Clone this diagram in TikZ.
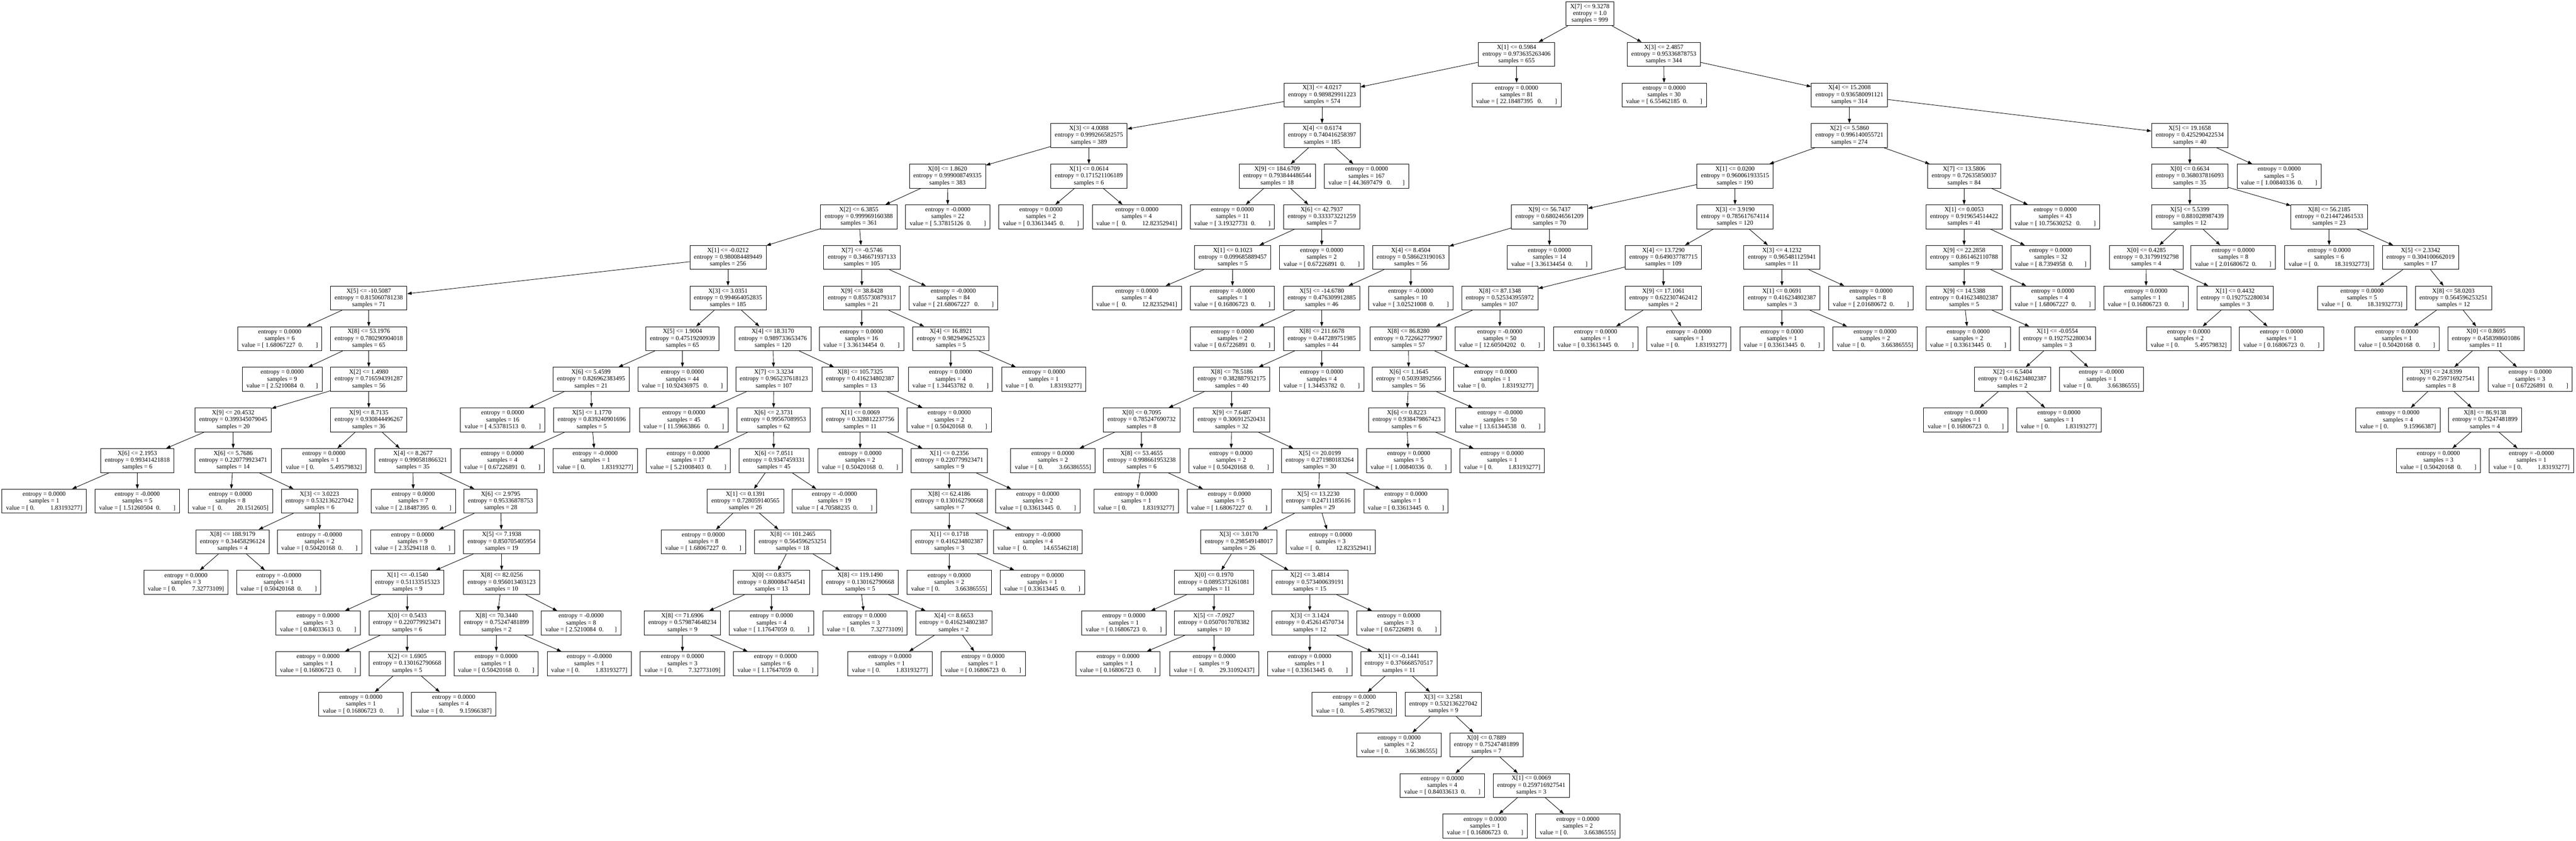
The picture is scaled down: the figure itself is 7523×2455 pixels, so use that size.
\documentclass[tikz,border=0pt]{standalone}
\usepackage{fontspec}
\setmainfont{Liberation Serif}
\usetikzlibrary{arrows.meta}
\newcommand\valA[1]{value = [~#1~~0.~~~~~~~~]}
\newcommand\valAA[1]{value = [~#1~~~0.~~~~~~~~]}
\newcommand\valAs[1]{value = [~#1~~0.~~~~~~~]}
\newcommand\valAAs[1]{value = [~#1~~~0.~~~~~~~]}
\newcommand\valB[1]{value = [~0.~~~~~~~~~~#1]}
\newcommand\valBB[1]{value = [~~0.~~~~~~~~~~#1]}
\newcommand\valBBs[1]{value = [~~0.~~~~~~~~~#1]}
\newcommand\TreeIn[7]{\node[tbox] (#1) at (#2,{40+118.6*#3}) {X[#4] <= #5\\entropy = #6\\samples = #7};}
\newcommand\TreeLf[6]{\node[tbox] (#1) at (#2,{40+118.6*#3}) {entropy = #4\\samples = #5\\#6};}
\begin{document}
\begin{tikzpicture}[x=1pt,y=-1pt,
  tbox/.style={draw, line width=1.3pt, rectangle, align=center, inner xsep=12pt, inner ysep=0pt,
    minimum height=70pt, font=\fontsize{18.3pt}{20pt}\selectfont},
  edge/.style={line width=1.3pt, -{Triangle[length=13pt,width=9pt]}}]
\fill[white] (0,0) rectangle (7523,2455);
\useasboundingbox (0,0) rectangle (7523,2455);
% level 0
\TreeIn{r}{4643}{0}{7}{9.3278}{1.0}{999}
% level 1
\TreeIn{a}{4429}{1}{1}{0.5984}{0.973635263406}{655}
\TreeIn{b}{4859}{1}{3}{2.4857}{0.95336878753}{344}
% level 2
\TreeIn{a1}{3861}{2}{3}{4.0217}{0.989829911223}{574}
\TreeLf{aL}{4429}{2}{0.0000}{81}{\valAA{22.18487395}}
\TreeLf{bL}{4860}{2}{0.0000}{30}{\valA{6.55462185}}
\TreeIn{b1}{5401}{2}{4}{15.2008}{0.936580091121}{314}
% level 3
\TreeIn{c}{3180}{3}{3}{4.0088}{0.999266582575}{389}
\TreeIn{d}{3861}{3}{4}{0.6174}{0.740416258397}{185}
\TreeIn{e}{5401}{3}{2}{5.5860}{0.996140055721}{274}
\TreeIn{f}{6395}{3}{5}{19.1658}{0.425290422534}{40}
% level 4
\TreeIn{c1}{2767}{4}{0}{1.8620}{0.999008749335}{383}
\TreeIn{c2}{3180}{4}{1}{0.0614}{0.171521106189}{6}
\TreeIn{d1}{3730}{4}{9}{184.6709}{0.793844486544}{18}
\TreeLf{dL}{3991}{4}{0.0000}{167}{\valAAs{44.3697479}}
\TreeIn{e1}{5067}{4}{1}{0.0200}{0.960061933515}{190}
\TreeIn{e2}{5736}{4}{7}{13.5806}{0.72635850037}{84}
\TreeIn{f1}{6395}{4}{0}{0.6634}{0.368037816093}{35}
\TreeLf{fL}{6656}{4}{0.0000}{5}{\valA{1.00840336}}
% level 5
\TreeIn{c1a}{2508}{5}{2}{6.3855}{0.999969160388}{361}
\TreeLf{c1L}{2768}{5}{-0.0000}{22}{\valA{5.37815126}}
\TreeLf{c2L}{3040}{5}{0.0000}{2}{\valA{0.33613445}}
\TreeLf{c2R}{3320}{5}{0.0000}{4}{\valBB{12.82352941}}
\TreeLf{d1L}{3599}{5}{0.0000}{11}{\valA{3.19327731}}
\TreeIn{d1a}{3860}{5}{6}{42.7937}{0.333373221259}{7}
\TreeIn{e1a}{4525}{5}{9}{56.7437}{0.680246561209}{70}
\TreeIn{e1b}{5067}{5}{3}{3.9190}{0.785617674114}{120}
\TreeIn{e2a}{5736}{5}{1}{0.0053}{0.919654514422}{41}
\TreeLf{e2L}{6002}{5}{0.0000}{43}{\valAA{10.75630252}}
\TreeIn{f1a}{6395}{5}{5}{5.5399}{0.881028987439}{12}
\TreeIn{f1b}{6802}{5}{8}{56.2185}{0.214472461533}{23}
% level 6
\TreeIn{g}{2126}{6}{1}{-0.0212}{0.980084489449}{256}
\TreeIn{h}{2517}{6}{7}{-0.5746}{0.346671937133}{105}
\TreeIn{d1aL}{3600}{6}{1}{0.1023}{0.099685889457}{5}
\TreeLf{d1aR}{3860}{6}{0.0000}{2}{\valA{0.67226891}}
\TreeIn{e1aL}{4120}{6}{4}{8.4504}{0.586623190163}{56}
\TreeLf{e1aR}{4525}{6}{0.0000}{14}{\valA{3.36134454}}
\TreeIn{e1bL}{4858}{6}{4}{13.7290}{0.649037787715}{109}
\TreeIn{e1bR}{5204}{6}{3}{4.1232}{0.965481125941}{11}
\TreeIn{e2aL}{5736}{6}{9}{22.2858}{0.861462110788}{9}
\TreeLf{e2aR}{5989}{6}{0.0000}{32}{\valAs{8.7394958}}
\TreeIn{f1aL}{6268}{6}{0}{0.4285}{0.31799192798}{4}
\TreeLf{f1aR}{6522}{6}{0.0000}{8}{\valA{2.01680672}}
\TreeLf{f1bL}{6802}{6}{0.0000}{6}{\valBB{18.31932773}}
\TreeIn{f1bR}{7069}{6}{5}{2.3342}{0.304100662019}{17}
% level 7
\TreeIn{gL}{1077}{7}{5}{-10.5087}{0.815060781238}{71}
\TreeIn{gR}{2126}{7}{3}{3.0351}{0.994664052835}{185}
\TreeIn{hL}{2517}{7}{9}{38.8428}{0.855730879317}{21}
\TreeLf{hR}{2784}{7}{-0.0000}{84}{\valAA{21.68067227}}
\TreeLf{d1aLL}{3320}{7}{0.0000}{4}{\valBB{12.82352941}}
\TreeLf{d1aLR}{3599}{7}{-0.0000}{1}{\valA{0.16806723}}
\TreeIn{e1aLL}{3860}{7}{5}{-14.6780}{0.476309912885}{46}
\TreeLf{e1aLR}{4120}{7}{-0.0000}{10}{\valA{3.02521008}}
\TreeIn{e1bLL}{4380}{7}{8}{87.1348}{0.525343955972}{107}
\TreeIn{e1bLR}{4858}{7}{9}{17.1061}{0.622307462412}{2}
\TreeIn{e1bRL}{5204}{7}{1}{0.0691}{0.416234802387}{3}
\TreeLf{e1bRR}{5464}{7}{0.0000}{8}{\valA{2.01680672}}
\TreeIn{e2aLL}{5736}{7}{9}{14.5388}{0.416234802387}{5}
\TreeLf{e2aLR}{5995}{7}{0.0000}{4}{\valA{1.68067227}}
\TreeLf{f1aLL}{6267}{7}{0.0000}{1}{\valA{0.16806723}}
\TreeIn{f1aLR}{6527}{7}{1}{0.4432}{0.192752280034}{3}
\TreeLf{f1bRL}{6898}{7}{0.0000}{5}{\valBB{18.31932773}}
\TreeIn{f1bRR}{7165}{7}{8}{58.0203}{0.564596253251}{12}
% level 8
\TreeLf{gLL}{817}{8}{0.0000}{6}{\valA{1.68067227}}
\TreeIn{gLR}{1077}{8}{8}{53.1976}{0.780290904018}{65}
\TreeIn{gRL}{1993}{8}{5}{1.9004}{0.47519200939}{65}
\TreeIn{gRR}{2257}{8}{4}{18.3170}{0.989733653476}{120}
\TreeLf{hLL}{2516}{8}{0.0000}{16}{\valA{3.36134454}}
\TreeIn{hLR}{2777}{8}{4}{16.8921}{0.982949625323}{5}
\TreeLf{e1aLLL}{3599}{8}{0.0000}{2}{\valA{0.67226891}}
\TreeIn{e1aLLR}{3860}{8}{8}{211.6678}{0.447289751985}{44}
\TreeIn{e1bLLL}{4113}{8}{8}{86.8280}{0.722662779907}{57}
\TreeLf{e1bLLR}{4380}{8}{-0.0000}{50}{\valAA{12.60504202}}
\TreeLf{e1bLRL}{4660}{8}{0.0000}{1}{\valA{0.33613445}}
\TreeLf{e1bLRR}{4932}{8}{-0.0000}{1}{\valB{1.83193277}}
\TreeLf{e1bRLL}{5204}{8}{0.0000}{1}{\valA{0.33613445}}
\TreeLf{e1bRLR}{5476}{8}{0.0000}{2}{\valB{3.66386555}}
\TreeLf{e2aLLL}{5748}{8}{0.0000}{2}{\valA{0.33613445}}
\TreeIn{e2aLLR}{6008}{8}{1}{-0.0554}{0.192752280034}{3}
\TreeLf{f1aLRL}{6392}{8}{0.0000}{2}{\valB{5.49579832}}
\TreeLf{f1aLRR}{6663}{8}{0.0000}{1}{\valA{0.16806723}}
\TreeLf{f1bRRL}{7000}{8}{0.0000}{1}{\valA{0.50420168}}
\TreeIn{f1bRRR}{7260}{8}{0}{0.8695}{0.458398601086}{11}
% level 9
\TreeLf{gLRL}{824}{9}{0.0000}{9}{\valAs{2.5210084}}
\TreeIn{gLRR}{1077}{9}{2}{1.4980}{0.716594391287}{56}
\TreeIn{gRLL}{1726}{9}{6}{5.4599}{0.826962383495}{21}
\TreeLf{gRLR}{1993}{9}{0.0000}{44}{\valAA{10.92436975}}
\TreeIn{gRRL}{2260}{9}{7}{3.3234}{0.965237618123}{107}
\TreeIn{gRRR}{2512}{9}{8}{105.7325}{0.416234802387}{13}
\TreeLf{hLRL}{2776}{9}{0.0000}{4}{\valA{1.34453782}}
\TreeLf{hLRR}{3048}{9}{0.0000}{1}{\valB{1.83193277}}
\TreeIn{e1aLLRL}{3597}{9}{8}{78.5186}{0.382887932175}{40}
\TreeLf{e1aLLRR}{3860}{9}{0.0000}{4}{\valA{1.34453782}}
\TreeIn{e1bLLLL}{4114}{9}{6}{1.1645}{0.50393892566}{56}
\TreeLf{e1bLLLR}{4368}{9}{0.0000}{1}{\valB{1.83193277}}
\TreeIn{e2aLLRL}{5877}{9}{2}{6.5404}{0.416234802387}{2}
\TreeLf{e2aLLRR}{6137}{9}{-0.0000}{1}{\valB{3.66386555}}
\TreeIn{f1bRRRL}{7128}{9}{9}{24.8399}{0.259716927541}{8}
\TreeLf{f1bRRRR}{7389}{9}{0.0000}{3}{\valA{0.67226891}}
% level 10
\TreeIn{p1}{681}{10}{9}{20.4532}{0.399345079045}{20}
\TreeIn{p2}{1077}{10}{9}{8.7135}{0.930844496267}{36}
\TreeLf{q1}{1468}{10}{0.0000}{16}{\valA{4.53781513}}
\TreeIn{q2}{1728}{10}{5}{1.1770}{0.839240901696}{5}
\TreeLf{s1}{1997}{10}{0.0000}{45}{\valAA{11.59663866}}
\TreeIn{s2}{2259}{10}{6}{2.3731}{0.99567089953}{62}
\TreeIn{t1}{2512}{10}{1}{0.0069}{0.328812237756}{11}
\TreeLf{t2}{2772}{10}{0.0000}{2}{\valA{0.50420168}}
\TreeIn{u1}{3334}{10}{0}{0.7095}{0.785247690732}{8}
\TreeIn{u2}{3597}{10}{9}{7.6487}{0.306912520431}{32}
\TreeIn{v1}{4108}{10}{6}{0.8223}{0.938479867423}{6}
\TreeLf{v2}{4381}{10}{-0.0000}{50}{\valAA{13.61344538}}
\TreeLf{w1}{5741}{10}{0.0000}{1}{\valA{0.16806723}}
\TreeLf{w2}{6013}{10}{0.0000}{1}{\valB{1.83193277}}
\TreeLf{z1}{7003}{10}{0.0000}{4}{\valB{9.15966387}}
\TreeIn{z2}{7257}{10}{8}{86.9138}{0.75247481899}{4}
% level 11
\TreeIn{p1a}{401}{11}{6}{2.1953}{0.99341421818}{6}
\TreeIn{p1b}{681}{11}{6}{5.7686}{0.220779923471}{14}
\TreeLf{p2a}{946}{11}{0.0000}{1}{\valB{5.49579832}}
\TreeIn{p2b}{1206}{11}{4}{8.2677}{0.990581866321}{35}
\TreeLf{q2a}{1467}{11}{0.0000}{4}{\valA{0.67226891}}
\TreeLf{q2b}{1738}{11}{-0.0000}{1}{\valB{1.83193277}}
\TreeLf{s2a}{2010}{11}{0.0000}{17}{\valA{5.21008403}}
\TreeIn{s2b}{2260}{11}{6}{7.0511}{0.9347459331}{45}
\TreeLf{t1a}{2512}{11}{0.0000}{2}{\valA{0.50420168}}
\TreeIn{t1b}{2772}{11}{1}{0.2356}{0.220779923471}{9}
\TreeLf{u1a}{3075}{11}{0.0000}{2}{\valB{3.66386555}}
\TreeIn{u1b}{3334}{11}{8}{53.4655}{0.998661953238}{6}
\TreeLf{u2a}{3595}{11}{0.0000}{2}{\valA{0.50420168}}
\TreeIn{u2b}{3854}{11}{5}{20.0199}{0.271980183264}{30}
\TreeLf{v1a}{4114}{11}{0.0000}{5}{\valA{1.00840336}}
\TreeLf{v1b}{4387}{11}{0.0000}{1}{\valB{1.83193277}}
\TreeLf{z2a}{7121}{11}{0.0000}{3}{\valA{0.50420168}}
\TreeLf{z2b}{7393}{11}{-0.0000}{1}{\valB{1.83193277}}
% level 12
\TreeLf{p1aa}{129}{12}{0.0000}{1}{\valB{1.83193277}}
\TreeLf{p1ab}{401}{12}{-0.0000}{5}{\valA{1.51260504}}
\TreeLf{p1ba}{673}{12}{0.0000}{8}{\valBBs{20.1512605}}
\TreeIn{p1bb}{933}{12}{3}{3.0223}{0.532136227042}{6}
\TreeLf{p2ba}{1207}{12}{0.0000}{7}{\valA{2.18487395}}
\TreeIn{p2bb}{1462}{12}{6}{2.9795}{0.95336878753}{28}
\TreeIn{s2ba}{2177}{12}{1}{0.1391}{0.728059140565}{26}
\TreeLf{s2bb}{2437}{12}{-0.0000}{19}{\valA{4.70588235}}
\TreeIn{t1ba}{2772}{12}{8}{62.4186}{0.130162790668}{7}
\TreeLf{t1bb}{3031}{12}{0.0000}{2}{\valA{0.33613445}}
\TreeLf{u1ba}{3318}{12}{0.0000}{1}{\valB{1.83193277}}
\TreeLf{u1bb}{3590}{12}{0.0000}{5}{\valA{1.68067227}}
\TreeIn{u2ba}{3850}{12}{5}{13.2230}{0.24711185616}{29}
\TreeLf{u2bb}{4106}{12}{0.0000}{1}{\valA{0.33613445}}
% level 13
\TreeIn{p1bba}{679}{13}{8}{188.9179}{0.34458296124}{4}
\TreeLf{p1bbb}{933}{13}{-0.0000}{2}{\valA{0.50420168}}
\TreeLf{p2bba}{1205}{13}{0.0000}{9}{\valA{2.35294118}}
\TreeIn{p2bbb}{1465}{13}{5}{7.1938}{0.850705405954}{19}
\TreeLf{s2baa}{2054}{13}{0.0000}{8}{\valA{1.68067227}}
\TreeIn{s2bab}{2315}{13}{8}{101.2465}{0.564596253251}{18}
\TreeIn{t1baa}{2772}{13}{1}{0.1718}{0.416234802387}{3}
\TreeLf{t1bab}{3031}{13}{-0.0000}{4}{\valBB{14.65546218}}
\TreeIn{u2baa}{3618}{13}{3}{3.0170}{0.298549148017}{26}
\TreeLf{u2bab}{3886}{13}{0.0000}{3}{\valBB{12.82352941}}
% level 14
\TreeLf{p1bbaa}{543}{14}{0.0000}{3}{\valB{7.32773109}}
\TreeLf{p1bbab}{814}{14}{-0.0000}{1}{\valA{0.50420168}}
\TreeIn{p2bbba}{1190}{14}{1}{-0.1540}{0.51133515323}{9}
\TreeIn{p2bbbb}{1465}{14}{8}{82.0256}{0.956013403123}{10}
\TreeIn{s2baba}{2253}{14}{0}{0.8375}{0.800084744541}{13}
\TreeIn{s2babb}{2512}{14}{8}{119.1490}{0.130162790668}{5}
\TreeLf{t1baaa}{2772}{14}{0.0000}{2}{\valB{3.66386555}}
\TreeLf{t1baab}{3044}{14}{0.0000}{1}{\valA{0.33613445}}
\TreeIn{u2baaa}{3545}{14}{0}{0.1970}{0.0895373261081}{11}
\TreeIn{u2baab}{3825}{14}{2}{3.4814}{0.573400639191}{15}
% level 15
\TreeLf{m1}{929}{15}{0.0000}{3}{\valA{0.84033613}}
\TreeIn{m2}{1189}{15}{0}{0.5433}{0.220779923471}{6}
\TreeIn{m3}{1450}{15}{8}{70.3440}{0.75247481899}{2}
\TreeLf{m4}{1697}{15}{-0.0000}{8}{\valAs{2.5210084}}
\TreeIn{m5}{1993}{15}{8}{71.6906}{0.579874648234}{9}
\TreeLf{m6}{2253}{15}{0.0000}{4}{\valA{1.17647059}}
\TreeLf{m7}{2526}{15}{0.0000}{3}{\valB{7.32773109}}
\TreeIn{m8}{2785}{15}{4}{8.6653}{0.416234802387}{2}
\TreeLf{m9}{3282}{15}{0.0000}{1}{\valA{0.16806723}}
\TreeIn{m10}{3545}{15}{5}{-7.0927}{0.0507017078382}{10}
\TreeIn{m11}{3825}{15}{3}{3.1424}{0.452614570734}{12}
\TreeLf{m12}{4085}{15}{0.0000}{3}{\valA{0.67226891}}
% level 16
\TreeLf{k1}{929}{16}{0.0000}{1}{\valA{0.16806723}}
\TreeIn{k2}{1189}{16}{2}{1.6905}{0.130162790668}{5}
\TreeLf{k3}{1449}{16}{0.0000}{1}{\valA{0.50420168}}
\TreeLf{k4}{1721}{16}{-0.0000}{1}{\valB{1.83193277}}
\TreeLf{k5}{1993}{16}{0.0000}{3}{\valB{7.32773109}}
\TreeLf{k6}{2265}{16}{0.0000}{6}{\valA{1.17647059}}
\TreeLf{k7}{2599}{16}{0.0000}{1}{\valB{1.83193277}}
\TreeLf{k8}{2871}{16}{0.0000}{1}{\valA{0.16806723}}
\TreeLf{k9}{3265}{16}{0.0000}{1}{\valA{0.16806723}}
\TreeLf{k10}{3546}{16}{0.0000}{9}{\valBB{29.31092437}}
\TreeLf{k11}{3825}{16}{0.0000}{1}{\valA{0.33613445}}
\TreeIn{k12}{4085}{16}{1}{-0.1441}{0.376668570517}{11}
% level 17
\TreeLf{j1}{1054}{17}{0.0000}{1}{\valA{0.16806723}}
\TreeLf{j2}{1325}{17}{0.0000}{4}{\valB{9.15966387}}
\TreeLf{j3}{3955}{17}{0.0000}{2}{\valB{5.49579832}}
\TreeIn{j4}{4215}{17}{3}{3.2581}{0.532136227042}{9}
% level 18
\TreeLf{i1}{4086}{18}{0.0000}{2}{\valB{3.66386555}}
\TreeIn{i2}{4341}{18}{0}{0.7889}{0.75247481899}{7}
% level 19
\TreeLf{h1}{4212}{19}{0.0000}{4}{\valA{0.84033613}}
\TreeIn{h2}{4472}{19}{1}{0.0069}{0.259716927541}{3}
% level 20
\TreeLf{g1}{4337}{20}{0.0000}{1}{\valA{0.16806723}}
\TreeLf{g2}{4608}{20}{0.0000}{2}{\valB{3.66386555}}
% edges
\foreach \p/\c in {r/a, r/b, a/a1, a/aL, b/bL, b/b1, a1/c, a1/d, b1/e, b1/f,
  c/c1, c/c2, d/d1, d/dL, e/e1, e/e2, f/f1, f/fL,
  c1/c1a, c1/c1L, c2/c2L, c2/c2R, d1/d1L, d1/d1a, e1/e1a, e1/e1b, e2/e2a, e2/e2L, f1/f1a, f1/f1b,
  c1a/g, c1a/h, d1a/d1aL, d1a/d1aR, e1a/e1aL, e1a/e1aR, e1b/e1bL, e1b/e1bR, e2a/e2aL, e2a/e2aR,
  f1a/f1aL, f1a/f1aR, f1b/f1bL, f1b/f1bR,
  g/gL, g/gR, h/hL, h/hR, d1aL/d1aLL, d1aL/d1aLR, e1aL/e1aLL, e1aL/e1aLR, e1bL/e1bLL, e1bL/e1bLR,
  e1bR/e1bRL, e1bR/e1bRR, e2aL/e2aLL, e2aL/e2aLR, f1aL/f1aLL, f1aL/f1aLR, f1bR/f1bRL, f1bR/f1bRR,
  gL/gLL, gL/gLR, gR/gRL, gR/gRR, hL/hLL, hL/hLR, e1aLL/e1aLLL, e1aLL/e1aLLR, e1bLL/e1bLLL, e1bLL/e1bLLR,
  e1bLR/e1bLRL, e1bLR/e1bLRR, e1bRL/e1bRLL, e1bRL/e1bRLR, e2aLL/e2aLLL, e2aLL/e2aLLR,
  f1aLR/f1aLRL, f1aLR/f1aLRR, f1bRR/f1bRRL, f1bRR/f1bRRR,
  gLR/gLRL, gLR/gLRR, gRL/gRLL, gRL/gRLR, gRR/gRRL, gRR/gRRR, hLR/hLRL, hLR/hLRR,
  e1aLLR/e1aLLRL, e1aLLR/e1aLLRR, e1bLLL/e1bLLLL, e1bLLL/e1bLLLR, e2aLLR/e2aLLRL, e2aLLR/e2aLLRR,
  f1bRRR/f1bRRRL, f1bRRR/f1bRRRR,
  gLRR/p1, gLRR/p2, gRLL/q1, gRLL/q2, gRRL/s1, gRRL/s2, gRRR/t1, gRRR/t2,
  e1aLLRL/u1, e1aLLRL/u2, e1bLLLL/v1, e1bLLLL/v2, e2aLLRL/w1, e2aLLRL/w2, f1bRRRL/z1, f1bRRRL/z2,
  p1/p1a, p1/p1b, p2/p2a, p2/p2b, q2/q2a, q2/q2b, s2/s2a, s2/s2b, t1/t1a, t1/t1b,
  u1/u1a, u1/u1b, u2/u2a, u2/u2b, v1/v1a, v1/v1b, z2/z2a, z2/z2b,
  p1a/p1aa, p1a/p1ab, p1b/p1ba, p1b/p1bb, p2b/p2ba, p2b/p2bb, s2b/s2ba, s2b/s2bb,
  t1b/t1ba, t1b/t1bb, u1b/u1ba, u1b/u1bb, u2b/u2ba, u2b/u2bb,
  p1bb/p1bba, p1bb/p1bbb, p2bb/p2bba, p2bb/p2bbb, s2ba/s2baa, s2ba/s2bab, t1ba/t1baa, t1ba/t1bab,
  u2ba/u2baa, u2ba/u2bab,
  p1bba/p1bbaa, p1bba/p1bbab, p2bbb/p2bbba, p2bbb/p2bbbb, s2bab/s2baba, s2bab/s2babb,
  t1baa/t1baaa, t1baa/t1baab, u2baa/u2baaa, u2baa/u2baab,
  p2bbba/m1, p2bbba/m2, p2bbbb/m3, p2bbbb/m4, s2baba/m5, s2baba/m6, s2babb/m7, s2babb/m8,
  u2baaa/m9, u2baaa/m10, u2baab/m11, u2baab/m12,
  m2/k1, m2/k2, m3/k3, m3/k4, m5/k5, m5/k6, m8/k7, m8/k8, m10/k9, m10/k10, m11/k11, m11/k12,
  k2/j1, k2/j2, k12/j3, k12/j4, j4/i1, j4/i2, i2/h1, i2/h2, h2/g1, h2/g2}
  \draw[edge] (\p) -- (\c);
\end{tikzpicture}
\end{document}
